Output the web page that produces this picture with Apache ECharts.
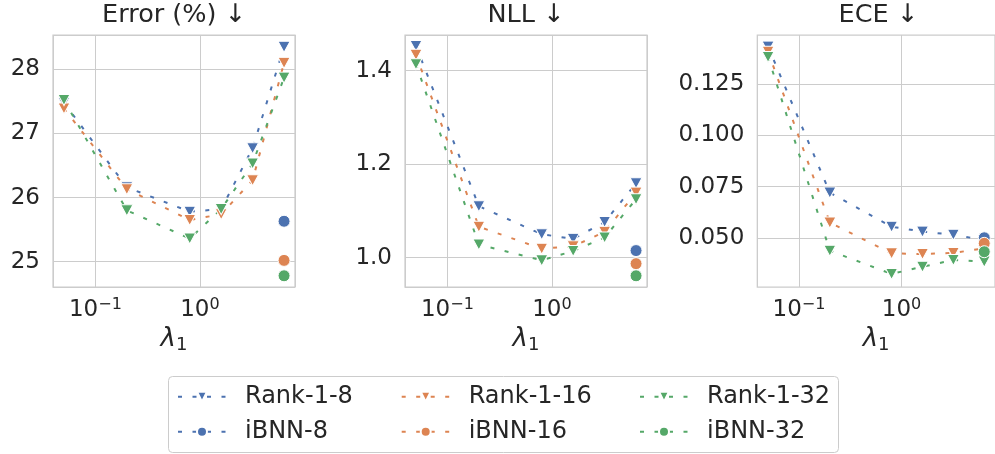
<!DOCTYPE html>
<html>
<head>
<meta charset="utf-8">
<script src="https://cdn.jsdelivr.net/npm/echarts@6/dist/echarts.min.js"></script>
<style>
  html, body { margin: 0; padding: 0; background: #ffffff; }
  #chart { width: 995px; height: 454px; }
</style>
</head>
<body>
<div id="chart"></div>
<script>
// ---------------- data ----------------
const lambdas = [0.05, 0.2, 0.8, 1.6, 3.2, 6.4];
const ibnnLambda = 6.4;

const panelTitles = ['Error (%) \u2193', 'NLL \u2193', 'ECE \u2193'];
const seriesNames = ['Rank-1-8', 'Rank-1-16', 'Rank-1-32', 'iBNN-8', 'iBNN-16', 'iBNN-32'];

const errRank8  = [27.48, 26.16, 25.78, 25.82, 26.77, 28.35];
const errRank16 = [27.39, 26.13, 25.65, 25.74, 26.27, 28.10];
const errRank32 = [27.52, 25.80, 25.36, 25.82, 26.53, 27.87];
const errIbnn   = [25.63, 25.02, 24.78];

const nllRank8  = [1.453, 1.110, 1.050, 1.040, 1.076, 1.159];
const nllRank16 = [1.434, 1.066, 1.019, 1.024, 1.055, 1.139];
const nllRank32 = [1.414, 1.028, 0.994, 1.014, 1.043, 1.125];
const nllIbnn   = [1.015, 0.987, 0.961];

const eceRank8  = [0.1432, 0.0721, 0.0555, 0.0531, 0.0516, 0.0490];
const eceRank16 = [0.1407, 0.0575, 0.0425, 0.0422, 0.0427, 0.0450];
const eceRank32 = [0.1382, 0.0438, 0.0325, 0.0360, 0.0393, 0.0385];
const eceIbnn   = [0.0501, 0.0474, 0.0433];

const eceTicks = [0.05, 0.075, 0.1, 0.125];

// ---------------- styling ----------------
const colors = ['#4C72B0', '#DD8452', '#55A868'];
const textColor = '#262626';
const gridColor = '#cccccc';
const FONT = 'DejaVu Sans';

const panels = [
  { rank: [errRank8, errRank16, errRank32], ibnn: errIbnn, ymin: 24.605, ymax: 28.535, split: 5, fmt: v => String(Math.round(v)) },
  { rank: [nllRank8, nllRank16, nllRank32], ibnn: nllIbnn, ymin: 0.937, ymax: 1.4765, split: 3, fmt: v => v.toFixed(1) },
  { rank: [eceRank8, eceRank16, eceRank32], ibnn: eceIbnn, ymin: 0.02613, ymax: 0.14887, split: 5, fmt: v => v.toFixed(3), custom: eceTicks }
];
const gridLefts = [53, 405, 757.3];
const gridW = 242, gridH = 252, gridTop = 35;

const xmin = Math.pow(10, -1.406), xmax = Math.pow(10, 0.911);

const grids = [], xAxes = [], yAxes = [], series = [], titles = [];

panels.forEach((p, i) => {
  grids.push({ left: gridLefts[i], top: gridTop, width: gridW, height: gridH, show: true,
    borderColor: gridColor, borderWidth: 1.25, backgroundColor: '#ffffff' });
  titles.push({ text: panelTitles[i], left: gridLefts[i] + gridW / 2, top: 2, textAlign: 'center', padding: 0,
    textStyle: { fontSize: 25.5, fontWeight: 'normal', color: textColor, fontFamily: FONT } });
  xAxes.push({
    type: 'log', logBase: 10, gridIndex: i, min: xmin, max: xmax,
    axisLine: { show: false }, axisTick: { show: false },
    splitLine: { show: true, lineStyle: { color: gridColor, width: 1 } },
    axisLabel: {
      showMinLabel: false, showMaxLabel: false, margin: 10, color: textColor,
      formatter: v => {
        const e = Math.round(Math.log10(v));
        return '{b|10}{s|' + (e < 0 ? '\u2212' + (-e) : String(e)) + '}';
      },
      rich: {
        b: { fontSize: 23, color: textColor, fontFamily: FONT },
        s: { fontSize: 16, color: textColor, fontFamily: FONT, padding: [0, 0, 10, 0] }
      }
    },
    name: '{l|\u03bb}{sub|1}', nameLocation: 'middle', nameGap: 37,
    nameTextStyle: {
      rich: {
        l: { fontSize: 26, fontStyle: 'italic', color: textColor, fontFamily: FONT },
        sub: { fontSize: 18, color: textColor, fontFamily: FONT, padding: [12, 0, 0, 0] }
      }
    }
  });
  const ya = {
    type: 'value', gridIndex: i, min: p.ymin, max: p.ymax, splitNumber: p.split,
    axisLine: { show: false },
    axisTick: { show: false },
    splitLine: { show: true, lineStyle: { color: gridColor, width: 1 } },
    axisLabel: { showMinLabel: false, showMaxLabel: false, margin: 13, fontSize: 23, color: textColor, fontFamily: FONT,
      formatter: p.fmt }
  };
  if (p.custom) {
    ya.axisTick.customValues = p.custom;
    ya.axisLabel.customValues = p.custom;
    ya.axisLabel.showMinLabel = true; ya.axisLabel.showMaxLabel = true;
  }
  yAxes.push(ya);

  const lineStyleFor = c => ({ color: c, width: 2, type: [4, 10.5] });
  p.rank.forEach((vals, k) => {
    series.push({
      type: 'line', name: seriesNames[k], xAxisIndex: i, yAxisIndex: i,
      data: lambdas.map((x, j) => [x, vals[j]]),
      symbol: 'triangle', symbolRotate: 180, symbolSize: [12, 11], showSymbol: true, showAllSymbol: true,
      lineStyle: lineStyleFor(colors[k]),
      itemStyle: { color: colors[k], borderColor: '#ffffff', borderWidth: 1 },
      emphasis: { disabled: true }, animation: false
    });
  });
  p.ibnn.forEach((v, k) => {
    series.push({
      type: 'line', name: seriesNames[3 + k], xAxisIndex: i, yAxisIndex: i,
      data: [[ibnnLambda, v]],
      symbol: 'circle', symbolSize: 12, showSymbol: true,
      lineStyle: lineStyleFor(colors[k]),
      itemStyle: { color: colors[k], borderColor: '#ffffff', borderWidth: 1 },
      emphasis: { disabled: true }, animation: false
    });
  });
});

const legendCols = [177, 400.7, 639];
const legends = legendCols.map((lx, k) => ({
  data: [seriesNames[k], seriesNames[3 + k]],
  orient: 'vertical', left: lx, top: 384.7, padding: 0,
  itemWidth: 48, itemHeight: 12.5, itemGap: 11, selectedMode: false,
  textStyle: { fontSize: 24, color: textColor, fontFamily: FONT, lineHeight: 24, padding: [0, 0, 0, 14] }
}));

const chart = echarts.init(document.getElementById('chart'), null, { renderer: 'canvas' });
chart.setOption({
  animation: false,
  textStyle: { fontFamily: FONT },
  title: titles,
  grid: grids,
  xAxis: xAxes,
  yAxis: yAxes,
  legend: legends,
  graphic: [{
    type: 'rect', z: -1,
    shape: { x: 168.5, y: 376.5, width: 670, height: 76, r: 4 },
    style: { fill: '#ffffff', stroke: gridColor, lineWidth: 1 }
  }],
  series: series
});
</script>
</body>
</html>
